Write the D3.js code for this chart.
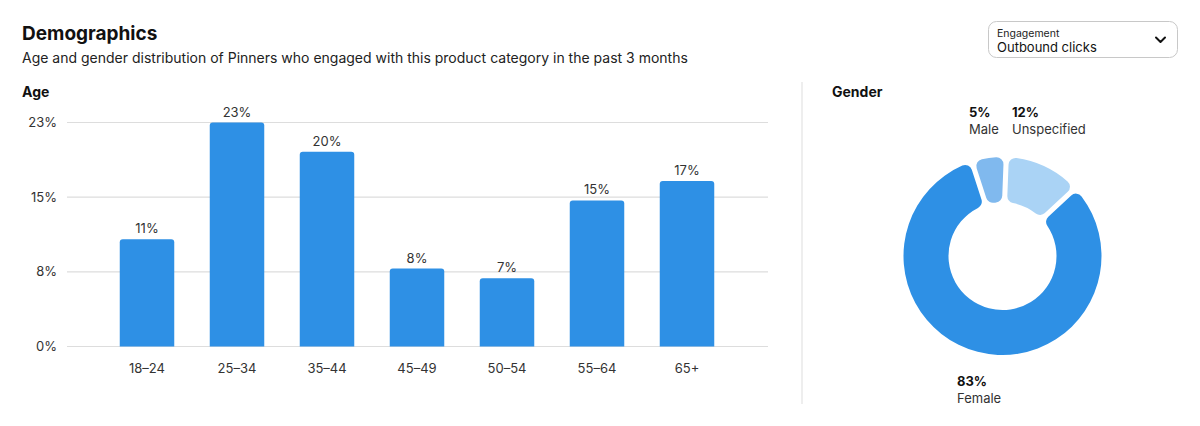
<html>
<head>
    <style>
        body { margin: 0; background: #fff; font-family: Inter, "Open Sans", sans-serif; }
        text { fill: #333; }
    </style>
    <script src="https://cdn.jsdelivr.net/npm/d3@7"></script>
</head>
<body>
    <svg id="container" width="1200" height="426"></svg>
</body>
<script>
    // age chart data
    let ageGroups = ["18–24", "25–34", "35–44", "45–49", "50–54", "55–64", "65+"]
    let ageValues = [11, 23, 20, 8, 7, 15, 17]
    let yTicks = [0, 23 / 3, 46 / 3, 23]
    let yTickLabels = ["0%", "8%", "15%", "23%"]

    // gender donut data (clockwise from just left of 12 o'clock)
    let genders = ["Male", "Unspecified", "Female"]
    let genderValues = [5, 12, 83]
    let genderColors = ["#80b9ee", "#aad3f5", "#2e90e5"]

    let svg = d3.select("#container")

    // header
    svg.append("text").attr("x", 22).attr("y", 40)
        .attr("font-size", 19).attr("font-weight", 700).style("fill", "#111")
        .text("Demographics")
    svg.append("text").attr("x", 22).attr("y", 63)
        .attr("font-size", 14).style("fill", "#222")
        .text("Age and gender distribution of Pinners who engaged with this product category in the past 3 months")

    // dropdown
    let dd = svg.append("g")
    dd.append("rect").attr("x", 988.5).attr("y", 21.5).attr("width", 189).attr("height", 36)
        .attr("rx", 8).attr("fill", "#fff").attr("stroke", "#c8c8c8")
    dd.append("text").attr("x", 997).attr("y", 37).attr("font-size", 10.5).style("fill", "#222").text("Engagement")
    dd.append("text").attr("x", 997).attr("y", 52).attr("font-size", 13).style("fill", "#111").text("Outbound clicks")
    dd.append("path").attr("d", "M1156 37.5 L1160.5 42 L1165 37.5")
        .attr("fill", "none").attr("stroke", "#111").attr("stroke-width", 2)
        .attr("stroke-linecap", "round").attr("stroke-linejoin", "round")

    // section titles
    svg.append("text").attr("x", 22).attr("y", 97).attr("font-size", 14).attr("font-weight", 700)
        .style("fill", "#111").text("Age")
    svg.append("text").attr("x", 832).attr("y", 97).attr("font-size", 14).attr("font-weight", 700)
        .style("fill", "#111").text("Gender")

    // divider
    svg.append("line").attr("x1", 802).attr("x2", 802).attr("y1", 82).attr("y2", 404)
        .attr("stroke", "#ddd").attr("stroke-width", 1)

    // ---- bar chart ----
    let x = d3.scaleBand().domain(ageGroups).range([102, 732]).padding(0.39).paddingOuter(0.195)
    let y = d3.scaleLinear().domain([0, 23]).range([346.5, 122.5])

    let grid = svg.append("g")
    grid.selectAll("line").data(yTicks).enter().append("line")
        .attr("x1", 67).attr("x2", 768)
        .attr("y1", d => y(d)).attr("y2", d => y(d))
        .attr("stroke", "#ddd").attr("stroke-width", 1.2)
    grid.selectAll("text").data(yTicks).enter().append("text")
        .attr("x", 57).attr("y", d => y(d) + 4.5)
        .attr("text-anchor", "end").attr("font-size", 13)
        .text((d, i) => yTickLabels[i])

    let bars = svg.append("g")
    let bw = 54.5
    bars.selectAll("path").data(ageValues).enter().append("path")
        .attr("fill", "#2e90e5")
        .attr("d", (d, i) => {
            let cx = x(ageGroups[i]) + x.bandwidth() / 2
            let x0 = cx - bw / 2, x1 = cx + bw / 2
            let t = y(d), b = y(0), r = 3
            return `M${x0},${b} L${x0},${t + r} Q${x0},${t} ${x0 + r},${t} L${x1 - r},${t} Q${x1},${t} ${x1},${t + r} L${x1},${b} Z`
        })
    bars.selectAll("text.val").data(ageValues).enter().append("text")
        .attr("class", "val")
        .attr("x", (d, i) => x(ageGroups[i]) + x.bandwidth() / 2)
        .attr("y", d => y(d) - 6)
        .attr("text-anchor", "middle").attr("font-size", 13)
        .text(d => d + "%")
    bars.selectAll("text.cat").data(ageGroups).enter().append("text")
        .attr("class", "cat")
        .attr("x", d => x(d) + x.bandwidth() / 2)
        .attr("y", 373)
        .attr("text-anchor", "middle").attr("font-size", 13)
        .text(d => d)

    // ---- donut ----
    let cx = 1002.5, cy = 256
    let pie = d3.pie().sort(null).value(d => d)
        .startAngle(-2 * Math.PI * genderValues[0] / 100)
        .endAngle(2 * Math.PI - 2 * Math.PI * genderValues[0] / 100)
        .padAngle(0.045)
    let arc = d3.arc().innerRadius(54).outerRadius(99).cornerRadius(7)

    let donut = svg.append("g").attr("transform", `translate(${cx},${cy})`)
    donut.selectAll("path").data(pie(genderValues)).enter().append("path")
        .attr("d", arc)
        .attr("fill", (d, i) => genderColors[i])

    // gender labels
    let labelPos = [[969, 117], [1012, 117], [957, 386]]
    let gl = svg.append("g")
    genders.forEach((g, i) => {
        gl.append("text").attr("x", labelPos[i][0]).attr("y", labelPos[i][1])
            .attr("font-size", 13).attr("font-weight", 700).style("fill", "#111")
            .text(genderValues[i] + "%")
        gl.append("text").attr("x", labelPos[i][0]).attr("y", labelPos[i][1] + 17)
            .attr("font-size", 13).text(g)
    })
</script>
</html>
